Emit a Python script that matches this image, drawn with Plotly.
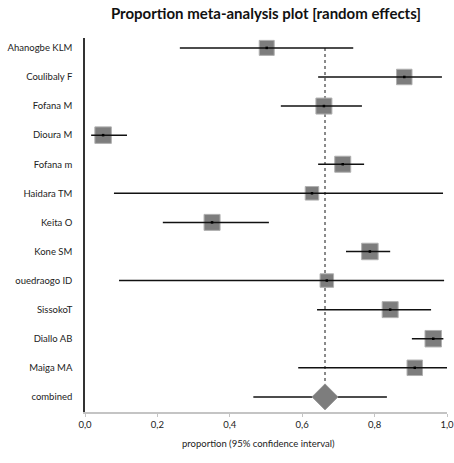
import plotly.graph_objects as go

# Study-level proportions with 95% confidence limits
studies = ["Ahanogbe KLM", "Coulibaly F", "Fofana M", "Dioura M", "Fofana m",
           "Haidara TM", "Keita O", "Kone SM", "ouedraogo ID", "SissokoT",
           "Diallo AB", "Maiga MA"]
prop = [0.502, 0.882, 0.660, 0.050, 0.712, 0.627, 0.351, 0.787, 0.668, 0.843, 0.962, 0.911]
ci_lo = [0.262, 0.644, 0.541, 0.017, 0.644, 0.080, 0.215, 0.721, 0.094, 0.641, 0.903, 0.589]
ci_hi = [0.741, 0.986, 0.765, 0.116, 0.771, 0.989, 0.508, 0.843, 0.992, 0.956, 0.990, 1.000]
box_size = [15, 15.5, 16, 16.5, 16, 13.5, 16, 16.5, 13.5, 16, 16.5, 15.5]

# Random-effects pooled estimate
pooled_label = "combined"
pooled = 0.663
pooled_lo = 0.465
pooled_hi = 0.834

x_ticks = [0, 0.2, 0.4, 0.6, 0.8, 1.0]
x_ticktext = ["0,0", "0,2", "0,4", "0,6", "0,8", "1,0"]

rows = list(range(len(studies)))
pooled_row = len(studies)
labels = studies + [pooled_label]

font = "Lato, Open Sans, sans-serif"
W, H = 454, 463
fig = go.Figure()

# vertical reference line at the pooled estimate
fig.add_trace(go.Scatter(
    x=[pooled, pooled], y=[0, pooled_row - 0.32], mode="lines",
    line=dict(color="#8a8a8a", width=2, dash="dot"), hoverinfo="skip"))

# weighted study boxes
fig.add_trace(go.Scatter(
    x=prop, y=rows, mode="markers",
    marker=dict(symbol="square", size=box_size, color="#7d7d7d", opacity=1,
                line=dict(color="#b0b0b0", width=1)),
    hoverinfo="skip"))

# confidence interval lines
fig.add_trace(go.Scatter(
    x=prop, y=rows, mode="markers",
    marker=dict(size=1, color="rgba(0,0,0,0)"),
    error_x=dict(type="data", symmetric=False,
                 array=[h - p for h, p in zip(ci_hi, prop)],
                 arrayminus=[p - l for p, l in zip(prop, ci_lo)],
                 color="#111111", thickness=1.5, width=0),
    hoverinfo="skip"))

# point estimate dots
fig.add_trace(go.Scatter(
    x=prop, y=rows, mode="markers",
    marker=dict(symbol="square", size=2.5, color="#000000"),
    hoverinfo="skip"))

# pooled interval and diamond
fig.add_trace(go.Scatter(
    x=[pooled_lo, pooled_hi], y=[pooled_row, pooled_row], mode="lines",
    line=dict(color="#111111", width=1.5), hoverinfo="skip"))
fig.add_trace(go.Scatter(
    x=[pooled], y=[pooled_row], mode="markers",
    marker=dict(symbol="diamond", size=20, color="#7d7d7d", opacity=1,
                line=dict(color="#9a9a9a", width=1)),
    hoverinfo="skip"))

fig.add_annotation(
    text="proportion (95% confidence interval)", xref="paper", yref="paper",
    x=(258 - 85) / (W - 85 - 7), y=-(444 - 412) / (412 - 38),
    xanchor="center", yanchor="middle", showarrow=False,
    font=dict(size=9.5, color="#222222"))

fig.update_layout(
    width=W, height=H,
    margin=dict(l=85, r=7, t=38, b=51),
    paper_bgcolor="white", plot_bgcolor="white",
    showlegend=False,
    font=dict(family=font, size=10, color="#222222"),
    title=dict(text="<b>Proportion meta-analysis plot [random effects]</b>",
               x=266 / W, xanchor="center", y=1 - 14 / H, yanchor="middle",
               font=dict(size=15, color="#111111")),
    xaxis=dict(range=[0, 1], tickvals=x_ticks, ticktext=x_ticktext,
               showgrid=False, zeroline=False, showline=True,
               linecolor="#c4c4c4", linewidth=2, automargin=False,
               ticklabeloverflow="allow",
               ticks="outside", ticklen=3, tickcolor="#c4c4c4", tickwidth=1,
               tickfont=dict(size=9.5, color="#222222")),
    yaxis=dict(range=[pooled_row + 0.52, -0.34], tickvals=rows + [pooled_row],
               ticktext=labels, showgrid=False, zeroline=False,
               showline=True, linecolor="#333333", linewidth=1.5,
               automargin=False, ticklabeloverflow="allow",
               ticks="", ticklabelstandoff=9,
               tickfont=dict(size=9.5, color="#222222")),
)

fig.write_html("out.html")
